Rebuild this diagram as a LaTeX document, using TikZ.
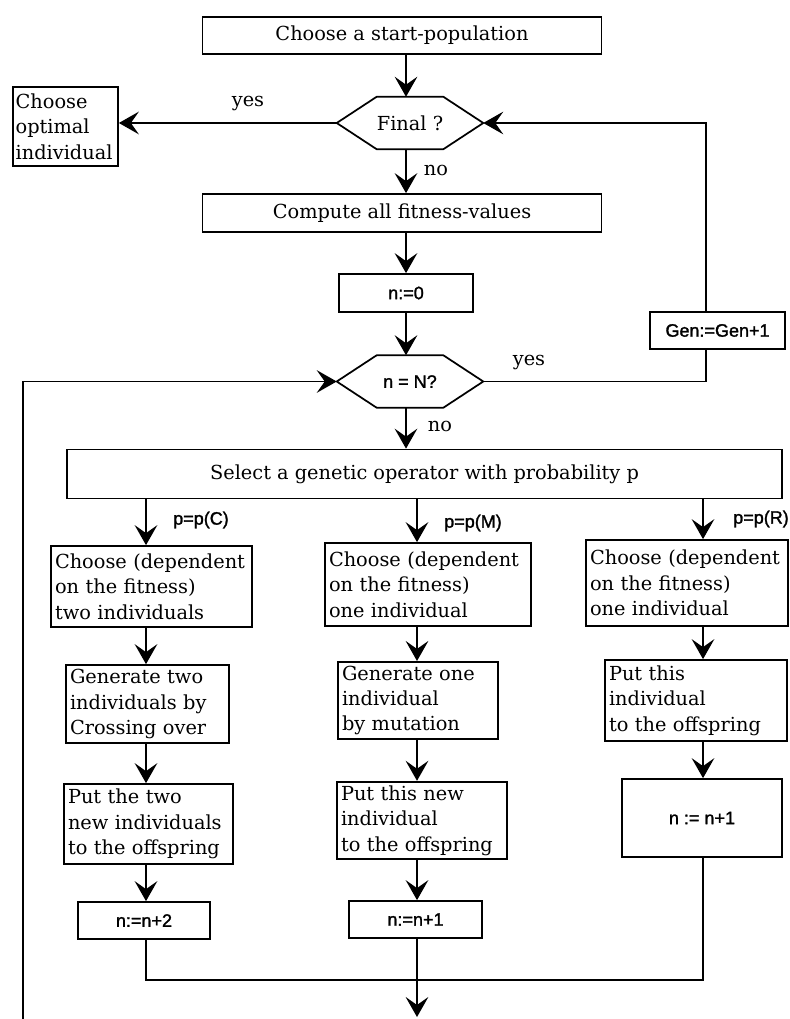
\documentclass[tikz,border=0pt]{standalone}
\usepackage{fontspec}
\setmainfont{DejaVu Serif}
\newfontfamily\sansf[FakeBold=1.5]{Liberation Sans}
\usetikzlibrary{arrows.meta}
\newcommand\hexdraw[1]{\draw[line width=1.3pt] (#1.west) -- ([xshift=30pt]#1.north west) -- ([xshift=-30pt]#1.north east) -- (#1.east) -- ([xshift=-30pt]#1.south east) -- ([xshift=30pt]#1.south west) -- cycle;}
\begin{document}
\begin{tikzpicture}[x=0.75pt,y=-0.75pt,
  box/.style={draw, line width=1.3pt, inner sep=0pt, font=\fontsize{14.5}{19}\selectfont},
  tbox/.style={draw, line width=1.3pt, inner sep=3pt, align=left, font=\fontsize{14.5}{19}\selectfont},
  sbox/.style={draw, line width=1.3pt, inner sep=0pt, font=\sansf\fontsize{13.5}{15}\selectfont},
  hexn/.style={draw=none, inner sep=0pt, minimum width=109.5pt, minimum height=39pt},
  lbl/.style={font=\fontsize{14.5}{19}\selectfont, inner sep=0pt},
  slbl/.style={font=\sansf\fontsize{13.5}{15}\selectfont, inner sep=0pt},
  line/.style={line width=1.1pt},
  arr/.style={line, -{Stealth[length=15pt,width=17pt,inset=6pt]}},
]
\useasboundingbox (0,0) rectangle (789,1019);

\coordinate (ax) at (406,0);
\coordinate (colC) at (146,0);
\coordinate (colM) at (417,0);
\coordinate (colR) at (703,0);
\coordinate (colG) at (706,0);
\coordinate (mrg) at (0,980);
\coordinate (bot) at (417,1017);
\coordinate (loopbot) at (23,1019);

% main column
\node[box, minimum width=299.25pt, minimum height=27.75pt] (start) at (402,35.5) {Choose a start-population};
\node[hexn, font=\fontsize{14.5}{19}\selectfont] (fin) at (410,123) {Final ?};
\hexdraw{fin}
\node[tbox, inner sep=2pt, text width=74.75pt, minimum height=59.25pt] (opt) at (65.5,126.5) {Choose\\optimal\\individual};
\node[box, minimum width=299.25pt, minimum height=28.5pt] (comp) at (402,213) {Compute all fitness-values};
\node[sbox, minimum width=100.5pt, minimum height=28.5pt] (n0) at (406,293) {n:=0};
\node[hexn, font=\sansf\fontsize{13.5}{15}\selectfont] (nN) at (410,381.5) {n = N?};
\hexdraw{nN}
\node[sbox, minimum width=101.25pt, minimum height=27.75pt] (gen) at (717.5,330.5) {Gen:=Gen+1};
\node[box, minimum width=536.25pt, minimum height=36.75pt] (sel) at (424.5,474) {Select a genetic operator with probability p};

% column C
\node[tbox, text width=144.75pt, minimum height=60.75pt] (cC) at (151.5,586.5) {Choose (dependent\\on the fitness)\\two individuals};
\node[tbox, text width=116.25pt, minimum height=58.5pt] (gC) at (147.5,704) {Generate two\\individuals by\\Crossing over};
\node[tbox, text width=120.75pt, minimum height=60pt] (pC) at (148.5,824) {Put the two\\new individuals\\to the offspring};
\node[sbox, minimum width=99pt, minimum height=27.75pt] (nC) at (144,920.5) {n:=n+2};

% column M
\node[tbox, text width=148.5pt, minimum height=62.25pt] (cM) at (428,584.5) {Choose (dependent\\on the fitness)\\one individual};
\node[tbox, text width=114pt, minimum height=56.25pt] (gM) at (418,700.5) {Generate one\\individual\\by mutation};
\node[tbox, text width=121.5pt, minimum height=57.75pt] (pM) at (422,820.5) {Put this new\\individual\\to the offspring};
\node[sbox, minimum width=99.75pt, minimum height=27.75pt] (nM) at (415.5,919.5) {n:=n+1};

% column R
\node[tbox, text width=145.5pt, minimum height=64.5pt] (cR) at (687,583) {Choose (dependent\\on the fitness)\\one individual};
\node[tbox, text width=130.5pt, minimum height=60.75pt] (pR) at (696,700.5) {Put this\\individual\\to the offspring};
\node[sbox, minimum width=120pt, minimum height=58.5pt] (nR) at (702,818) {n := n+1};

% labels
\node[lbl] (yes1) at (248,103) {yes};
\node[lbl] (no1) at (436,170) {no};
\node[lbl] (yes2) at (529,362) {yes};
\node[lbl] (no2) at (440,426) {no};
\node[slbl] (pc) at (201,520) {p=p(C)};
\node[slbl] (pm) at (473,523) {p=p(M)};
\node[slbl] (pr) at (761,519) {p=p(R)};

% connectors, main column
\draw[arr] (ax |- start.south) -- (ax |- fin.north);
\draw[arr] (fin.west) -- (fin.west -| opt.east);
\draw[arr] (ax |- fin.south) -- (ax |- comp.north);
\draw[arr] (ax |- comp.south) -- (ax |- n0.north);
\draw[arr] (ax |- n0.south) -- (ax |- nN.north);
\draw[arr] (ax |- nN.south) -- (ax |- sel.north);
\draw[arr] (colG |- gen.north) |- (fin.east);
\draw[line] (colG |- gen.south) |- (nN.east);
\draw[arr] (loopbot) |- (nN.west);

% column connectors
\draw[arr] (colC |- sel.south) -- (colC |- cC.north);
\draw[arr] (colC |- cC.south) -- (colC |- gC.north);
\draw[arr] (colC |- gC.south) -- (colC |- pC.north);
\draw[arr] (colC |- pC.south) -- (colC |- nC.north);

\draw[arr] (colM |- sel.south) -- (colM |- cM.north);
\draw[arr] (colM |- cM.south) -- (colM |- gM.north);
\draw[arr] (colM |- gM.south) -- (colM |- pM.north);
\draw[arr] (colM |- pM.south) -- (colM |- nM.north);

\draw[arr] (colR |- sel.south) -- (colR |- cR.north);
\draw[arr] (colR |- cR.south) -- (colR |- pR.north);
\draw[arr] (colR |- pR.south) -- (colR |- nR.north);

% merge
\draw[line] (colC |- nC.south) -- (colC |- mrg) -- (colR |- mrg) -- (colR |- nR.south);
\draw[line] (colM |- nM.south) -- (colM |- mrg);
\draw[arr] (colM |- mrg) -- (bot);
\end{tikzpicture}
\end{document}
